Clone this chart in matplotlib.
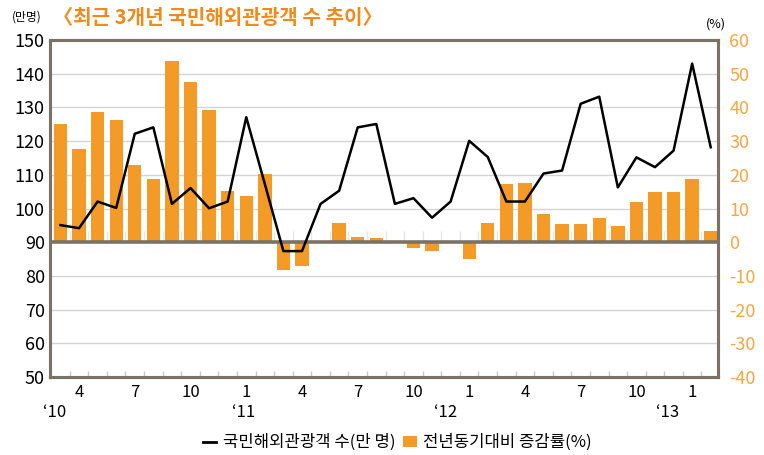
import matplotlib
matplotlib.use("Agg")
import matplotlib.pyplot as plt
import matplotlib.transforms as mtransforms
from matplotlib.patches import Patch
from matplotlib.lines import Line2D
import numpy as np

plt.rcParams['font.family'] = ['Noto Sans CJK KR', 'DejaVu Sans']
plt.rcParams['axes.unicode_minus'] = False

# 2010.3 ~ 2013.2, monthly
month_labels = ['4', '7', '10', '1', '4', '7', '10', '1', '4', '7', '10', '1']
month_label_pos = [1, 4, 7, 10, 13, 16, 19, 22, 25, 28, 31, 34]
year_labels = ['\u201810', '\u201811', '\u201812', '\u201813']
year_label_pos = [-0.3, 9.85, 20.75, 32.7]

# 국민해외관광객 수 (만 명)
travelers = [95.1, 94.2, 102.1, 100.2, 122.2, 124.1, 101.4, 106.1, 100.1, 102.1,
             127.1, 107.3, 87.4, 87.4, 101.4, 105.3, 124.1, 125.1, 101.4, 103.1,
             97.3, 102.1, 120.1, 115.3, 102.1, 102.1, 110.4, 111.3, 131.1, 133.2,
             106.3, 115.2, 112.3, 117.2, 143.0, 118.2]

# 전년동기대비 증감률 (%)
growth = [35.2, 27.6, 38.8, 36.4, 22.8, 18.8, 53.7, 47.6, 39.3, 15.1,
          13.6, 20.4, -8.3, -7.0, 0.0, 5.8, 1.7, 1.2, 0.0, -1.8,
          -2.6, 0.0, -4.8, 5.6, 17.4, 17.5, 8.4, 5.5, 5.3, 7.2,
          4.7, 12.1, 14.9, 14.8, 18.9, 3.3]

ORANGE = '#F39A27'
FRAME = '#7b7266'
GRID = '#d4d4d4'

x = np.arange(len(travelers))

fig = plt.figure(figsize=(7.64, 4.55), dpi=100)
ax1 = fig.add_axes([0.066, 0.171, 0.874, 0.741])
ax2 = ax1.twinx()
ax1.set_zorder(ax2.get_zorder() + 1)
ax1.patch.set_visible(False)

# bars on right axis
for y in range(-30, 61, 10):
    if y != 0:
        ax2.axhline(y, color=GRID, lw=1.0, zorder=0)
ax2.bar(x, growth, width=0.72, color=ORANGE, zorder=2)
bounds = x[:-1] + 0.5
ax2.vlines(bounds, 0, 3.5, color='#e6e6e6', lw=1.0, zorder=1)
ax2.vlines(bounds, -40, -38.2, color='#c8c8c8', lw=1.0, zorder=1)
ax2.axhline(0, color=FRAME, lw=2.6, zorder=3)
ax2.set_ylim(-40, 60)
ax2.set_yticks(range(-40, 61, 10))
ax2.tick_params(axis='y', length=0, labelsize=13, labelcolor='#F5A645', pad=8)

# line on left axis
line, = ax1.plot(x, travelers, color='black', lw=1.8, zorder=5)
ax1.set_ylim(50, 150)
ax1.set_yticks(range(50, 151, 10))
ax1.set_xlim(-0.54, 35.4)
ax1.set_xticks(month_label_pos)
ax1.set_xticklabels(month_labels)
ax1.tick_params(axis='x', length=0, labelsize=12, pad=5)
ax1.tick_params(axis='y', length=0, labelsize=13, pad=4)

for a in (ax1, ax2):
    for s in a.spines.values():
        s.set_color(FRAME)
        s.set_linewidth(2.2)

trans = mtransforms.blended_transform_factory(ax1.transData, ax1.transAxes)
for pos, lab in zip(year_label_pos, year_labels):
    ax1.text(pos, -0.105, lab, transform=trans, ha='center', va='center', fontsize=12)

fig.text(0.016, 0.962, '(만명)', fontsize=8.5, va='center', ha='left')
fig.text(0.070, 0.962, '\u3008최근 3개년 국민해외관광객 수 추이\u3009', fontsize=14.5,
         fontweight='bold', color='#F08A1C', va='center', ha='left')
fig.text(0.937, 0.948, '(%)', fontsize=9, va='center', ha='center')

handles = [Line2D([0], [0], color='black', lw=2),
           Patch(facecolor=ORANGE)]
fig.legend(handles, ['국민해외관광객 수(만 명)', '전년동기대비 증감률(%)'],
           loc='center', bbox_to_anchor=(0.52, 0.027), ncol=2, frameon=False,
           fontsize=12, handlelength=0.8, handleheight=0.6, handletextpad=0.4,
           columnspacing=0.5)

fig.savefig('out.png', dpi=100)
